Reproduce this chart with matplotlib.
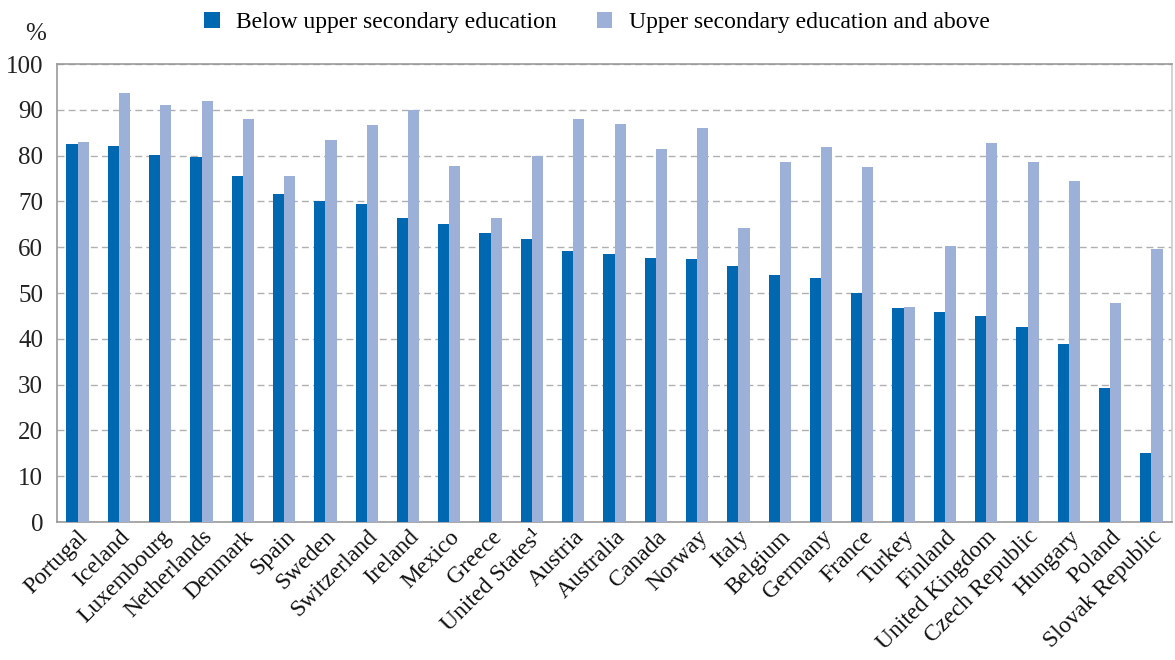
import numpy as np
import matplotlib
matplotlib.use("Agg")
import matplotlib.pyplot as plt

countries = ["Portugal", "Iceland", "Luxembourg", "Netherlands", "Denmark", "Spain",
             "Sweden", "Switzerland", "Ireland", "Mexico", "Greece", "United States\u00b9",
             "Austria", "Australia", "Canada", "Norway", "Italy", "Belgium", "Germany",
             "France", "Turkey", "Finland", "United Kingdom", "Czech Republic",
             "Hungary", "Poland", "Slovak Republic"]
below_upper = [82.5, 82.0, 80.2, 79.7, 75.6, 71.7, 70.1, 69.5, 66.4, 65.1, 63.1, 61.9,
               59.1, 58.6, 57.7, 57.4, 55.9, 54.0, 53.3, 50.0, 46.8, 45.9, 45.0, 42.6,
               38.9, 29.3, 15.0]
upper_above = [83.0, 93.6, 91.0, 91.9, 88.0, 75.6, 83.4, 86.7, 90.0, 77.8, 66.4, 80.0,
               88.0, 87.0, 81.5, 86.1, 64.2, 78.6, 81.9, 77.6, 47.0, 60.3, 82.8, 78.6,
               74.5, 47.8, 59.6]

plt.rcParams['font.family'] = ['Liberation Serif', 'DejaVu Serif']

dark = "#0068b0"
light = "#9db1d8"

fig = plt.figure(figsize=(11.75, 6.6), dpi=100)
ax = fig.add_axes([0.0485, 0.209, 0.949, 0.694])

x = np.arange(len(countries))
w = 0.27
ax.bar(x - w / 2, below_upper, width=w, color=dark, label="Below upper secondary education", zorder=3)
ax.bar(x + w / 2, upper_above, width=w, color=light, label="Upper secondary education and above", zorder=3)

ax.set_xlim(-0.5, len(countries) - 0.5)
ax.set_ylim(0, 100)
ax.set_yticks(range(0, 101, 10))
ax.tick_params(axis='y', length=0, labelsize=18, colors="#222222", pad=10)
ax.tick_params(axis='x', length=0, pad=3)
ax.set_xticks(x)
ax.set_xticklabels(countries, rotation=45, ha='right', rotation_mode='anchor',
                   fontsize=17, color="#111111")
ax.grid(axis='y', linestyle=(0, (5, 3)), color="#b0b0b0", linewidth=1, zorder=0)
for s in ax.spines.values():
    s.set_color("#999999")
    s.set_linewidth(1.2)
ax.spines['right'].set_color("#cccccc")

fig.text(0.03, 0.94, "%", fontsize=18, color="#222222", ha='center')

fig.legend(loc='center', bbox_to_anchor=(0.508, 0.966), ncol=2, frameon=False,
           fontsize=17, handlelength=0.65, handleheight=0.65, columnspacing=1.7,
           handletextpad=0.7)

fig.savefig("out.png", dpi=100)
